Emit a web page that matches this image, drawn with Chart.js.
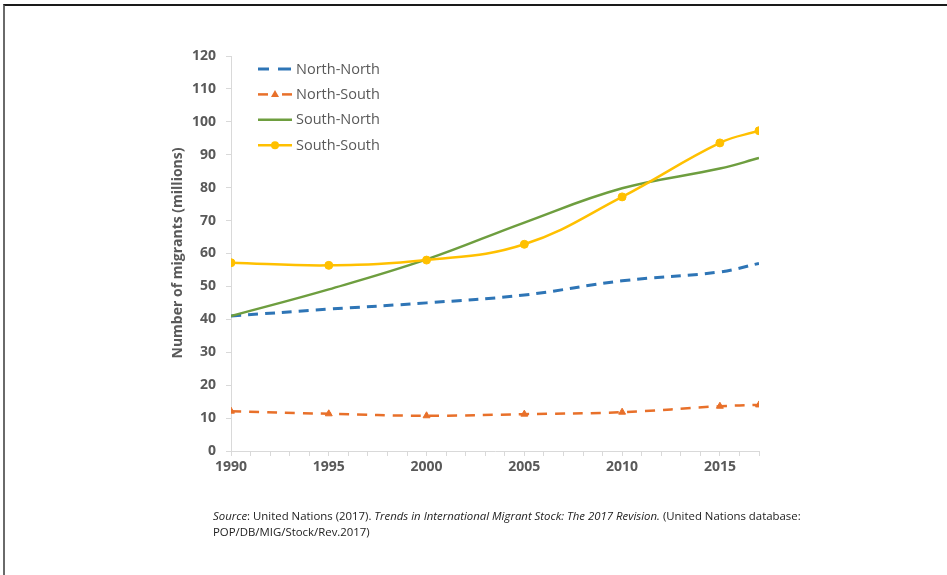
<!DOCTYPE html>
<html>
<head>
<meta charset="utf-8">
<script src="https://cdn.jsdelivr.net/npm/chart.js@4.4.1/dist/chart.umd.min.js"></script>
<style>
  html, body { margin: 0; padding: 0; background: #fff; }
  body { width: 947px; height: 575px; position: relative; overflow: hidden; }
  #frame { position: absolute; left: 3px; top: 4px; width: 950px; height: 600px;
           border-top: 2px solid #1a1a1a; border-left: 2px solid #6a6a6a; }
  #wrap { position: absolute; left: 0; top: 0; width: 947px; height: 575px; }
  #source { position: absolute; left: 213px; top: 508px; width: 594px; overflow: hidden;
            font-family: "Open Sans", sans-serif; font-size: 11.4px; line-height: 16px; color: #222; white-space: nowrap; }
</style>
</head>
<body>
<div id="frame"></div>
<div id="wrap"><canvas id="c" width="947" height="575"></canvas></div>
<div id="source"><i>Source</i>: United Nations (2017). <i>Trends in International Migrant Stock: The 2017 Revision.</i> (United Nations database:<br>POP/DB/MIG/Stock/Rev.2017)</div>
<script>
// ---- data ----
const years = [1990, 1995, 2000, 2005, 2010, 2015, 2017];
const northNorth = [41.0, 43.1, 45.0, 47.4, 51.7, 54.4, 57.0];
const northSouth = [12.1, 11.3, 10.7, 11.2, 11.8, 13.6, 14.0];
const southNorth = [41.0, 49.1, 58.2, 69.4, 79.8, 85.8, 89.0];
const southSouth = [57.2, 56.4, 58.0, 62.8, 77.2, 93.6, 97.3];
const seriesNames = ['North-North', 'North-South', 'South-North', 'South-South'];
const xTickLabels = ['1990', '1995', '2000', '2005', '2010', '2015'];
const yTickValues = [0, 10, 20, 30, 40, 50, 60, 70, 80, 90, 100, 110, 120];
const yTitle = 'Number of migrants (millions)';

const toXY = arr => arr.map((v, i) => ({ x: years[i], y: v }));

const styles = [
  { color: '#2E75B6', width: 3, dash: [10, 7], point: false, radius: 0 },
  { color: '#E8702A', width: 2.5, dash: [10, 8], point: 'triangle', radius: 4 },
  { color: '#6E9E3F', width: 2.5, dash: [], point: false, radius: 0 },
  { color: '#FFC000', width: 2.5, dash: [], point: 'circle', radius: 4 }
];
const seriesData = [northNorth, northSouth, southNorth, southSouth];

const datasets = seriesData.map((arr, i) => ({
  label: seriesNames[i],
  data: toXY(arr),
  borderColor: styles[i].color,
  backgroundColor: styles[i].color,
  borderWidth: styles[i].width,
  borderDash: styles[i].dash,
  pointStyle: styles[i].point || 'circle',
  pointRadius: styles[i].radius,
  pointBorderWidth: 1,
  tension: 0.4,
  fill: false,
  order: 4 - i
}));

const overlay = {
  id: 'overlay',
  afterDraw(chart) {
    const ctx = chart.ctx;
    // y axis title
    ctx.save();
    ctx.translate(178, 253);
    ctx.rotate(-Math.PI / 2);
    ctx.font = 'bold 14px "Open Sans", sans-serif';
    ctx.fillStyle = '#595959';
    ctx.textAlign = 'center';
    ctx.textBaseline = 'middle';
    ctx.fillText(yTitle, 0, 0);
    ctx.restore();
    // legend
    const x0 = 258, x1 = 292, tx = 296;
    seriesNames.forEach((name, i) => {
      const y = 69 + i * 25.4;
      const s = styles[i];
      ctx.save();
      ctx.strokeStyle = s.color;
      ctx.lineWidth = s.width;
      if (i === 0) {
        ctx.beginPath(); ctx.moveTo(x0, y); ctx.lineTo(x0 + 11, y); ctx.stroke();
        ctx.beginPath(); ctx.moveTo(x0 + 20, y); ctx.lineTo(x1 - 1, y); ctx.stroke();
      } else if (i === 1) {
        ctx.beginPath(); ctx.moveTo(x0, y); ctx.lineTo(x0 + 10, y); ctx.stroke();
        ctx.beginPath(); ctx.moveTo(x1 - 10, y); ctx.lineTo(x1, y); ctx.stroke();
      } else {
        ctx.beginPath(); ctx.moveTo(x0, y); ctx.lineTo(x1, y); ctx.stroke();
      }
      ctx.fillStyle = s.color;
      const cx = (x0 + x1) / 2;
      if (s.point === 'triangle') {
        ctx.beginPath();
        ctx.moveTo(cx, y - 4.5); ctx.lineTo(cx + 4, y + 2.5); ctx.lineTo(cx - 4, y + 2.5); ctx.closePath(); ctx.fill();
      } else if (s.point === 'circle') {
        ctx.beginPath(); ctx.arc(cx, y, 4, 0, Math.PI * 2); ctx.fill();
      }
      ctx.font = '14.5px "Open Sans", sans-serif';
      ctx.fillStyle = '#595959';
      ctx.textAlign = 'left';
      ctx.textBaseline = 'middle';
      ctx.fillText(name, tx, y + 0.5);
      ctx.restore();
    });
  }
};

new Chart(document.getElementById('c'), {
  type: 'line',
  data: { datasets },
  options: {
    responsive: false,
    devicePixelRatio: 1,
    animation: false,
    events: [],
    layout: { padding: { left: 171, right: 188, top: 56, bottom: 84 } },
    plugins: { legend: { display: false }, tooltip: { enabled: false }, title: { display: false } },
    scales: {
      x: {
        type: 'linear',
        min: 1990, max: 2017,
        afterFit(s) { s.height = 40; },
        ticks: {
          stepSize: 1, autoSkip: false, maxRotation: 0, padding: 3,
          color: '#595959', font: { family: 'Open Sans', size: 14, weight: 'bold' },
          callback: v => (xTickLabels.includes(String(v)) ? String(v) : '')
        },
        grid: { drawOnChartArea: false, drawTicks: true, tickLength: 5, color: '#d9d9d9' },
        border: { color: '#d9d9d9', width: 1 }
      },
      y: {
        min: 0, max: 120,
        afterFit(s) { s.width = 60; },
        afterBuildTicks(s) { s.ticks = yTickValues.map(v => ({ value: v })); },
        ticks: {
          padding: 10, color: '#595959', font: { family: 'Open Sans', size: 14, weight: 'bold' }
        },
        grid: { drawOnChartArea: false, drawTicks: true, tickLength: 5, color: '#d9d9d9' },
        border: { color: '#d9d9d9', width: 1 }
      }
    }
  },
  plugins: [overlay]
});
</script>
</body>
</html>
